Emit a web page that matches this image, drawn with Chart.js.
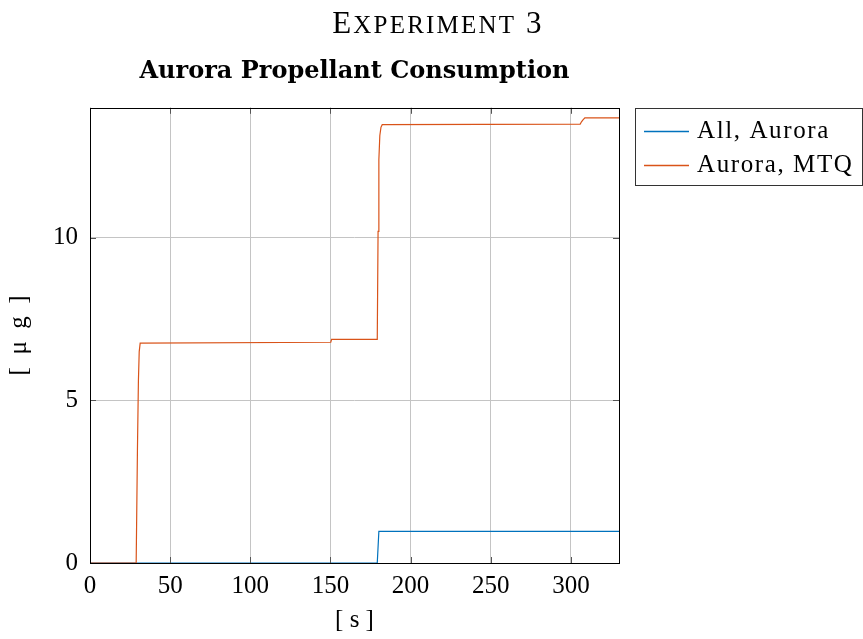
<!DOCTYPE html>
<html>
<head>
<meta charset="utf-8">
<script src="https://cdn.jsdelivr.net/npm/chart.js@4.4.0/dist/chart.umd.min.js"></script>
<style>
    body { margin: 0; background: #fff; }
    #wrap { width: 863px; height: 639px; }
</style>
</head>
<body>
<div id="wrap"><canvas id="propChart"></canvas></div>
<script>
// Propellant use over time [s] -> [µg]
const timeAll = [0, 179.2, 180.2, 330];
const massAll = [0, 0, 0.975, 0.975];

const timeMtq = [0, 28.8, 29.6, 30.2, 30.7, 31.3, 150.2, 150.7, 179.2, 179.7, 180.2, 180.8, 181.5, 182.3, 305.8, 306.6, 307.4, 308.7, 330];
const massMtq = [0, 0, 3.5, 5.6, 6.5, 6.76, 6.79, 6.88, 6.88, 10.2, 12.4, 13.15, 13.4, 13.48, 13.5, 13.57, 13.62, 13.69, 13.69];

const seriesNames = ['All, Aurora', 'Aurora, MTQ'];
const xTicks = [0, 50, 100, 150, 200, 250, 300];
const yTicks = [0, 5, 10];

const lineColors = ['#0072bd', '#d95319'];
const serif = "'Liberation Serif', 'DejaVu Serif', serif";

function toPoints(xs, ys) {
    return xs.map((x, i) => ({ x: x, y: ys[i] }));
}

// Small-caps heading across the whole figure
const headingPlugin = {
    id: 'heading',
    afterDraw(chart) {
        const ctx = chart.ctx;
        ctx.save();
        ctx.fillStyle = '#000';
        ctx.textBaseline = 'alphabetic';
        ctx.letterSpacing = '2.2px';
        const parts = [['E', 31], ['XPERIMENT', 25], [' 3', 31]];
        let w = 0;
        parts.forEach(p => { ctx.font = p[1] + 'px ' + serif; w += ctx.measureText(p[0]).width; });
        let x = 438 - w / 2;
        parts.forEach(p => {
            ctx.font = p[1] + 'px ' + serif;
            ctx.fillText(p[0], x, 33);
            x += ctx.measureText(p[0]).width;
        });
        ctx.restore();
    }
};

// Box around the plot, inward tick marks and a boxed legend
const framePlugin = {
    id: 'frame',
    afterDatasetsDraw(chart) {
        const ctx = chart.ctx;
        const a = chart.chartArea;
        const xs = chart.scales.x;
        const ys = chart.scales.y;
        ctx.save();
        ctx.strokeStyle = '#555';
        ctx.lineWidth = 1;
        ctx.beginPath();
        xTicks.forEach(v => {
            const px = Math.round(xs.getPixelForValue(v)) + 0.5;
            ctx.moveTo(px, a.bottom); ctx.lineTo(px, a.bottom - 6);
            ctx.moveTo(px, a.top); ctx.lineTo(px, a.top + 6);
        });
        yTicks.forEach(v => {
            const py = Math.round(ys.getPixelForValue(v)) + 0.5;
            ctx.moveTo(a.left, py); ctx.lineTo(a.left + 6, py);
            ctx.moveTo(a.right, py); ctx.lineTo(a.right - 6, py);
        });
        ctx.stroke();

        ctx.strokeStyle = '#000';
        ctx.strokeRect(Math.round(a.left) + 0.5, Math.round(a.top) + 0.5,
            Math.round(a.right - a.left), Math.round(a.bottom - a.top));

        // legend
        const lx = 635, ly = 108, lw = 227, lh = 77;
        ctx.fillStyle = '#fff';
        ctx.fillRect(lx, ly, lw, lh);
        ctx.strokeStyle = '#333';
        ctx.strokeRect(lx + 0.5, ly + 0.5, lw, lh);
        ctx.font = '25px ' + serif;
        ctx.letterSpacing = '1.6px';
        ctx.textBaseline = 'middle';
        seriesNames.forEach((name, i) => {
            const yy = ly + 23 + i * 34;
            ctx.strokeStyle = lineColors[i];
            ctx.lineWidth = 1.4;
            ctx.beginPath();
            ctx.moveTo(lx + 9, yy + 0.5);
            ctx.lineTo(lx + 54, yy + 0.5);
            ctx.stroke();
            ctx.fillStyle = '#000';
            ctx.fillText(name, lx + 62, yy);
        });
        ctx.restore();
    }
};

const ctx = document.getElementById('propChart').getContext('2d');

const propChart = new Chart(ctx, {
    type: 'line',
    data: {
        datasets: [{
            label: seriesNames[0],
            data: toPoints(timeAll, massAll),
            borderColor: lineColors[0],
            borderWidth: 1.2,
            pointRadius: 0,
            tension: 0,
            order: 1
        }, {
            label: seriesNames[1],
            data: toPoints(timeMtq, massMtq),
            borderColor: lineColors[1],
            borderWidth: 1.2,
            pointRadius: 0,
            tension: 0,
            order: 0
        }]
    },
    options: {
        responsive: true,
        maintainAspectRatio: false,
        animation: false,
        layout: {
            padding: { left: 0, right: 244, top: 45, bottom: 0 }
        },
        plugins: {
            legend: { display: false },
            tooltip: { enabled: false },
            title: { display: false },
            subtitle: {
                display: true,
                text: 'Aurora Propellant Consumption',
                color: '#000',
                fullSize: false,
                font: { family: "'DejaVu Serif', serif", size: 24, weight: 'bold', lineHeight: 1.2 },
                padding: { top: 12, bottom: 22 }
            }
        },
        scales: {
            x: {
                type: 'linear',
                min: 0,
                max: 330,
                afterBuildTicks: s => { s.ticks = xTicks.map(v => ({ value: v })); },
                afterFit: s => { s.height = 76; },
                grid: { color: '#c4c4c4', lineWidth: 1, drawTicks: false },
                border: { display: false },
                ticks: {
                    color: '#000',
                    padding: 8,
                    maxRotation: 0,
                    font: { family: serif, size: 25 }
                },
                title: {
                    display: true,
                    text: '[ s ]',
                    color: '#000',
                    font: { family: serif, size: 25 },
                    padding: { top: 2 }
                }
            },
            y: {
                type: 'linear',
                min: 0,
                max: 14,
                afterBuildTicks: s => { s.ticks = yTicks.map(v => ({ value: v })); },
                afterFit: s => { s.width = 90; },
                grid: { color: '#c4c4c4', lineWidth: 1, drawTicks: false },
                border: { display: false },
                ticks: {
                    color: '#000',
                    padding: 12,
                    font: { family: serif, size: 25 }
                },
                title: {
                    display: true,
                    text: '[\u2002μ\u2002g\u2002]',
                    color: '#000',
                    font: { family: serif, size: 25 },
                    padding: { bottom: 12 }
                }
            }
        }
    },
    plugins: [framePlugin, headingPlugin]
});
</script>
</body>
</html>
